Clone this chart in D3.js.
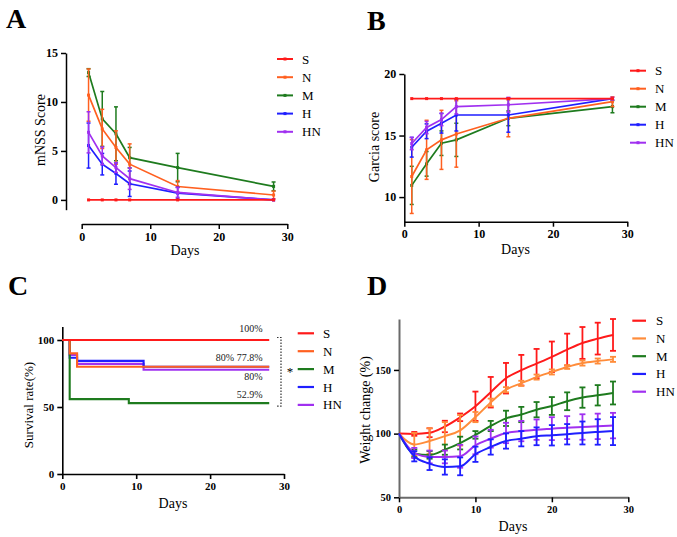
<!DOCTYPE html>
<html><head><meta charset="utf-8">
<script src="https://cdn.jsdelivr.net/npm/d3@7"></script>
<style>body{margin:0;background:#fff}svg{display:block}</style>
</head><body><svg id="c" width="677" height="537"></svg>
<script>
// ---------- data ----------
const groups = ["S","N","M","H","HN"];
const colorsABC = ["#ff1a1a","#ff6020","#1e7b1e","#1f1fff","#a030f0"];
const colorsD = ["#ff1a1a","#ff8c3a","#1e7b1e","#1f1fff","#a030f0"];

// Panel A: mNSS score
const daysAB = [1,3,5,7,14,28];
const mnssMean = [
  [0,0,0,0,0,0],
  [10.7,7.25,5.35,3.65,1.37,0.5],
  [13.0,8.27,6.75,4.31,3.3,1.38],
  [5.55,3.65,2.7,1.65,0.69,0],
  [6.9,4.5,3.3,2.17,0.76,0]
];
const mnssSD = [
  [0,0,0,0,0,0],
  [2.67,2.0,1.7,2.07,0.6,0.4],
  [0.4,2.8,2.75,1.05,1.45,0.45],
  [2.3,1.1,1.1,1.3,0.6,0],
  [2.1,0.9,0.5,1.1,0.5,0]
];

// Panel B: Garcia score
const garciaMean = [
  [18,18,18,18,18,18],
  [11.67,13.84,14.65,15.13,16.4,17.75],
  [10.95,12.7,14.38,14.65,16.4,17.35],
  [14.05,15.35,16.0,16.67,16.67,18.0],
  [14.35,15.65,16.3,17.35,17.5,18.0]
];
const garciaSD = [
  [0,0,0,0,0,0],
  [3.0,2.4,2.4,2.7,1.5,0.4],
  [1.55,1.0,1.0,1.35,0.6,0.5],
  [0.8,0.6,0.8,1.3,1.4,0],
  [0.5,0.5,0.5,0.6,0.6,0.1]
];

// Panel C: survival (step change points)
const survTimes = [
  [0,28],
  [0,1,2,28],
  [0,1,9,28],
  [0,1,2,11,28],
  [0,1,2,11,28]
];
const survValues = [
  [100,100],
  [100,90,80,80],
  [100,55.9,52.9,52.9],
  [100,86.7,84.4,80,80],
  [100,88.9,82.2,77.8,77.8]
];
const survLabels = ["100%","80%","77.8%","80%","52.9%"];

// Panel D: weight change
const weightDays = [0,2,4,6,8,10,12,14,16,18,20,22,24,26,28];
const weightMean = [
  [100,99.8,100.7,105.6,112.8,121.5,132.5,143.5,149.8,155,160.3,166,171.2,174.6,177.5],
  [100,91.5,94.2,98,102.6,113,124.5,134.5,139.5,144.4,148.4,152.3,155.4,157,158.3],
  [100,84.5,83.3,87.4,92.6,99,106,112,115,118.8,121.7,125.4,128.3,130.1,131.9],
  [100,82.2,76.4,73.8,74.3,83.8,89.5,94.2,96,97.9,98.7,99.5,100.5,101.3,102],
  [100,84.8,81.7,81.7,82.2,90.8,96,100.5,102,103.1,103.9,104.7,105.2,105.7,106.3]
];
const weightSD = [
  [0,1.5,3.5,4.5,3,11.5,12,12,12,11.5,12,12.5,12.5,12.5,12.5],
  [0,9,10,11,12,4,3,2,2,2,2,1.5,2,2,2],
  [0,3,3,4,5,3,4,6,6,6,7,7,8,8,9],
  [0,4,5,6,7,6,6,6,6,7,8,8,9,10,11],
  [0,4,5,5,9,7,7,8,8,8,9,9,10,10,10]
];

const xTicks = [0,10,20,30];

// ---------- drawing ----------
const svg = d3.select("#c");
svg.append("rect").attr("width",677).attr("height",537).attr("fill","#fff");
const SERIF = "'Liberation Serif','Times New Roman',serif";

function styleAxis(g, color, width, fs){
  g.select(".domain").attr("stroke",color).attr("stroke-width",width);
  g.selectAll(".tick line").attr("stroke",color).attr("stroke-width",width);
  g.selectAll(".tick text").attr("fill","#000").attr("font-family",SERIF)
    .attr("font-weight","bold").attr("font-size",fs);
}
function letter(t,x,y){
  svg.append("text").text(t).attr("x",x).attr("y",y).attr("font-family",SERIF)
    .attr("font-weight","bold").attr("font-size",28);
}
function ylabel(t,x,y,fs){
  svg.append("text").text(t).attr("transform",`translate(${x},${y}) rotate(-90)`)
    .attr("text-anchor","middle").attr("font-family",SERIF).attr("font-size",fs||14);
}
function xlabel(t,x,y){
  svg.append("text").text(t).attr("x",x).attr("y",y).attr("text-anchor","middle")
    .attr("font-family",SERIF).attr("font-size",14);
}
function legend(x0,x1,tx,y0,dy,colors,marker,lw){
  groups.forEach((g,i)=>{
    const y=y0+i*dy;
    svg.append("line").attr("x1",x0).attr("x2",x1).attr("y1",y).attr("y2",y)
      .attr("stroke",colors[i]).attr("stroke-width",lw);
    if(marker) svg.append("rect").attr("x",(x0+x1)/2-1.5).attr("y",y-1.5).attr("width",3).attr("height",3).attr("fill",colors[i]);
    svg.append("text").text(g).attr("x",tx).attr("y",y+4.5).attr("font-family",SERIF).attr("font-size",13);
  });
}
function errorSeries(x,y,days,means,sds,colors,order,capW,lw,curve,marker,plw){
  order.forEach(i=>{
    const gg = svg.append("g");
    const c = colors[i];
    days.forEach((d,j)=>{
      const sd=sds[i][j]; if(!sd) return;
      const px=x(d), t=y(means[i][j]+sd), b=y(means[i][j]-sd);
      gg.append("line").attr("x1",px).attr("x2",px).attr("y1",t).attr("y2",b).attr("stroke",c).attr("stroke-width",lw);
      [t,b].forEach(v=>gg.append("line").attr("x1",px-capW/2).attr("x2",px+capW/2).attr("y1",v).attr("y2",v).attr("stroke",c).attr("stroke-width",lw));
    });
    const line=d3.line().x((d,j)=>x(days[j])).y(d=>y(d)).curve(curve);
    gg.append("path").attr("d",line(means[i])).attr("fill","none").attr("stroke",c).attr("stroke-width",plw);
    if(marker) days.forEach((d,j)=>gg.append("rect").attr("x",x(d)-1.5).attr("y",y(means[i][j])-1.5).attr("width",3).attr("height",3).attr("fill",c));
  });
}

// ===== Panel A =====
{
  const x=d3.scaleLinear().domain([0,30]).range([81.7,287.3]);
  const y=d3.scaleLinear().domain([-1,15]).range([209.7,53]);
  const ax=svg.append("g").attr("transform","translate(0,224)")
    .call(d3.axisBottom(x).tickValues(xTicks).tickSize(5).tickSizeOuter(0).tickPadding(3));
  styleAxis(ax,"#000",1.5,12);
  const ay=svg.append("g").attr("transform","translate(66,0)")
    .call(d3.axisLeft(y).tickValues([0,5,10,15]).tickSize(5).tickSizeOuter(0).tickPadding(3));
  styleAxis(ay,"#000",1.5,12);
  errorSeries(x,y,daysAB,mnssMean,mnssSD,colorsABC,[2,1,3,4,0],4,1.5,d3.curveLinear,true,1.7);
  letter("A",6,28);
  ylabel("mNSS Score",45,130);
  xlabel("Days",185,255);
  legend(277,293,302,59,18.2,colorsABC,true,2);
}

// ===== Panel B =====
{
  const x=d3.scaleLinear().domain([0,30]).range([404.3,627.3]);
  const y=d3.scaleLinear().domain([8,20]).range([221.7,74]);
  const ax=svg.append("g").attr("transform","translate(0,221.7)")
    .call(d3.axisBottom(x).tickValues(xTicks).tickSize(5).tickSizeOuter(0).tickPadding(3));
  styleAxis(ax,"#000",1.5,12);
  const ay=svg.append("g").attr("transform","translate(404.3,0)")
    .call(d3.axisLeft(y).tickValues([10,15,20]).tickSize(5).tickSizeOuter(0).tickPadding(3));
  styleAxis(ay,"#000",1.5,12);
  errorSeries(x,y,daysAB,garciaMean,garciaSD,colorsABC,[2,1,3,4,0],4,1.5,d3.curveLinear,true,1.7);
  letter("B",367,30);
  ylabel("Garcia score",379,147);
  xlabel("Days",515.5,254);
  legend(630,646,655,70.7,18,colorsABC,true,2);
}

// ===== Panel C =====
{
  const x=d3.scaleLinear().domain([0,30]).range([62.3,284]);
  const y=d3.scaleLinear().domain([0,110]).range([474,326.6]);
  const ax=svg.append("g").attr("transform","translate(0,474)")
    .call(d3.axisBottom(x).tickValues(xTicks).tickSize(5).tickSizeOuter(0).tickPadding(3));
  styleAxis(ax,"#000",1.6,11);
  const ay=svg.append("g").attr("transform","translate(62.3,0)")
    .call(d3.axisLeft(y).tickValues([0,50,100]).tickSize(5).tickSizeOuter(0).tickPadding(3));
  styleAxis(ay,"#000",1.6,11);
  [4,3,2,1,0].forEach(i=>{
    const pts=survTimes[i].map((t,j)=>[t,survValues[i][j]]);
    const line=d3.line().x(d=>x(d[0])).y(d=>y(d[1])).curve(d3.curveStepAfter);
    svg.append("path").attr("d",line(pts)).attr("fill","none").attr("stroke",colorsABC[i]).attr("stroke-width",2.1);
  });
  const ann=(t,xx,yy)=>svg.append("text").text(t).attr("x",xx).attr("y",yy).attr("text-anchor","end")
    .attr("font-family",SERIF).attr("font-size",10).attr("fill","#222");
  ann(survLabels[0],262.5,332.3);
  ann(survLabels[1],234,360.7);
  ann(survLabels[2],262.5,360.7);
  ann(survLabels[3],262.5,380);
  ann(survLabels[4],262.5,398.3);
  const bx=281, by0=y(100)-2.5, by1=y(52.9)+3;
  svg.append("path").attr("d",`M${bx-4},${by0}H${bx}V${by1}H${bx-4}`).attr("fill","none")
    .attr("stroke","#333").attr("stroke-width",1.2).attr("stroke-dasharray","1.5,1.5");
  svg.append("text").text("*").attr("x",290).attr("y",376).attr("text-anchor","middle")
    .attr("font-family",SERIF).attr("font-size",13);
  letter("C",8,295);
  ylabel("Survival rate(%)",33,405,13);
  xlabel("Days",173,508);
  legend(297.7,314,323,333.3,17.9,colorsABC,false,2.2);
}

// ===== Panel D =====
{
  const x=d3.scaleLinear().domain([0,30]).range([399,628.3]);
  const y=d3.scaleLinear().domain([50,190]).range([497.3,319]);
  const ax=svg.append("g").attr("transform","translate(0,497.3)")
    .call(d3.axisBottom(x).tickValues(xTicks).tickSize(5).tickSizeOuter(0).tickPadding(3));
  styleAxis(ax,"#6a6a6a",2,10.5);
  const ay=svg.append("g").attr("transform","translate(399,0)")
    .call(d3.axisLeft(y).tickValues([50,100,150]).tickSize(5).tickSizeOuter(0).tickPadding(3));
  styleAxis(ay,"#6a6a6a",2,10.5);
  ay.selectAll(".tick line").attr("stroke","#000").attr("stroke-width",1.5);
  ax.selectAll(".tick line").attr("stroke","#000").attr("stroke-width",1.5);
  errorSeries(x,y,weightDays,weightMean,weightSD,colorsD,[0,1,2,4,3],6,1.8,d3.curveMonotoneX,false,2);
  letter("D",367,295);
  ylabel("Weight change (%)",370,410);
  xlabel("Days",513,531);
  legend(632.3,646,656,320.7,17.75,colorsD,false,2.2);
}
</script></body></html>
